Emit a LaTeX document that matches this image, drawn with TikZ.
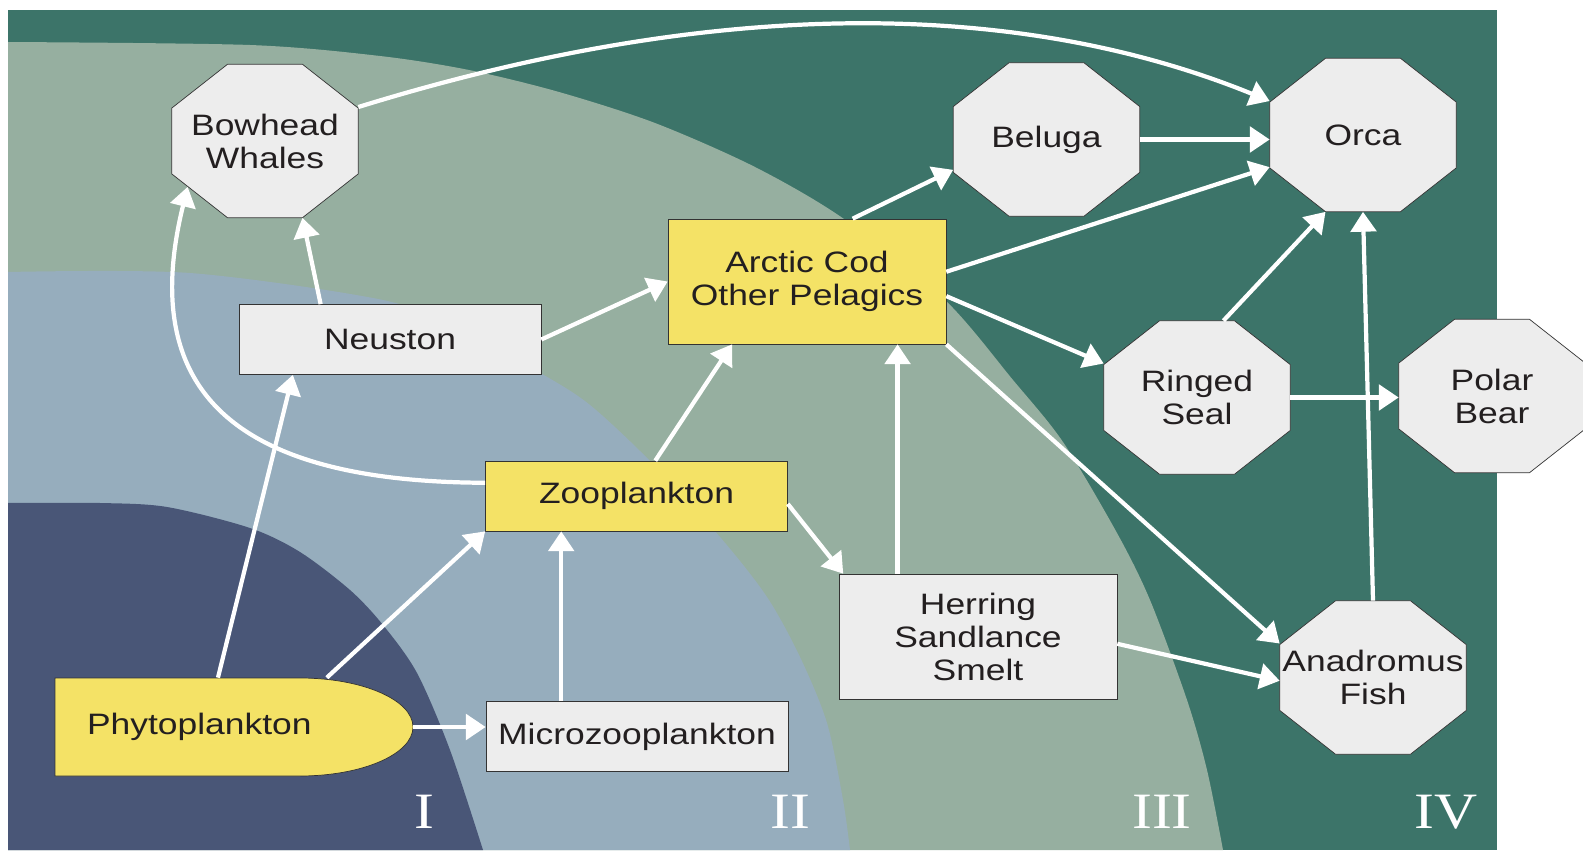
\documentclass[tikz,border=0pt]{standalone}
\usepackage{fontspec}
\setmainfont{Liberation Sans}[FakeStretch=1.2]
\newfontfamily\chiffresfont{Liberation Serif}[FakeStretch=1.17]
\usetikzlibrary{arrows.meta, calc, backgrounds}

\definecolor{merprofonde}{HTML}{3C7469}
\definecolor{merplateau}{HTML}{96AFA0}
\definecolor{mercotiere}{HTML}{96ADBD}
\definecolor{merglace}{HTML}{495677}
\definecolor{jaune}{HTML}{F4E266}
\definecolor{grisclair}{HTML}{EDEDED}
\definecolor{bord}{HTML}{333333}
\definecolor{encre}{HTML}{231F20}

\begin{document}
\begin{tikzpicture}[
    x=0.02cm, y=0.02cm,
    % Texte des noeuds
    texte/.style={font=\fontsize{16.8}{18.8}\selectfont, text=encre, align=center},
    % Styles des noeuds (les octogones sont traces plus bas, sous le texte)
    predateur/.style={rectangle, inner sep=0pt, minimum width=3.72cm,
                      minimum height=3.06cm, texte},
    octogone/.style={fill=grisclair, draw=bord},
    boite/.style={rectangle, draw=bord, fill=grisclair, inner sep=0pt,
                  minimum width=6.04cm, minimum height=1.4cm, texte},
    grandeboite/.style={boite, minimum width=5.56cm, minimum height=2.5cm},
    % Style des fleches
    fleche/.style={-{Triangle[length=11.3pt, width=14.5pt]}, line width=2.4pt, white},
    % Style des numeros de zone
    zone/.style={font=\chiffresfont\fontsize{29}{29}\selectfont, text=white}
]
\useasboundingbox (0,0) rectangle (1583,850);

% ==========================================
% ZONES MARINES (fond)
% ==========================================
\begin{scope}[on background layer]
\fill[merprofonde] (8,0) rectangle (1497,840);
\fill[merplateau] (8,0) -- plot[smooth] coordinates {(8,808) (250,805) (380,794)
    (469,780) (559,758) (655,727) (755,683) (844,631) (945,550) (1013,470)
    (1063,408) (1117,317) (1150,250) (1187,150) (1207,80) (1223,0)} -- cycle;
\fill[mercotiere] (8,0) -- plot[smooth] coordinates {(8,578) (190,577) (383,550)
    (460,520) (542,476) (590,445) (650,389) (720,313) (767,253) (800,193)
    (827,127) (843,50) (850,0)} -- cycle;
\fill[merglace] (8,0) -- plot[smooth] coordinates {(8,347) (100,347) (167,343)
    (250,322) (300,298) (350,260) (383,225) (417,177) (450,100) (483,0)} -- cycle;

% Phytoplancton (bout arrondi)
\filldraw[fill=jaune, draw=bord] (55,172) -- (300,172)
    arc[start angle=90, end angle=-90, x radius=113, y radius=49] -- (55,74) -- cycle;
\end{scope}

\node[zone] (zoneI) at (424,38) {I};
\node[zone] (zoneII) at (790,38) {II};
\node[zone] (zoneIII) at (1162,38) {III};
\node[zone] (zoneIV) at (1446,38) {IV};

% ==========================================
% PRODUCTEURS ET PLANCTON
% ==========================================
\node[texte, align=left, inner ysep=0pt, inner xsep=0.64cm, text width=5.88cm,
      minimum height=1.96cm] (phyto) at (234,123) {Phytoplankton};

\node[boite] (micro) at (637,113.5) {Microzooplankton};
\node[boite, fill=jaune] (zoo) at (636.5,354) {Zooplankton};
\node[boite] (neuston) at (390,510.5) {Neuston};

% ==========================================
% POISSONS
% ==========================================
\node[grandeboite, fill=jaune] (arctic) at (807,568.5) {Arctic Cod\\Other Pelagics};
\node[grandeboite] (herring) at (978,213.5) {Herring\\Sandlance\\Smelt};

% ==========================================
% PREDATEURS
% ==========================================
\node[predateur] (bowhead) at (265,709) {Bowhead\\Whales};
\node[predateur] (beluga) at (1046.5,710.5) {Beluga};
\node[predateur] (orca) at (1363,715) {Orca};
\node[predateur] (seal) at (1197,452.5) {Ringed\\Seal};
\node[predateur] (polar) at (1492,454) {Polar\\Bear};
\node[predateur] (fish) at (1373,172.5) {Anadromus\\Fish};

\begin{scope}[on background layer]
\foreach \n in {bowhead, beluga, orca, seal, polar, fish}
    \filldraw[octogone] ($(\n.north west)+(56,0)$) -- ($(\n.north east)+(-56,0)$)
        -- ($(\n.north east)+(0,-44)$) -- ($(\n.south east)+(0,44)$)
        -- ($(\n.south east)+(-56,0)$) -- ($(\n.south west)+(56,0)$)
        -- ($(\n.south west)+(0,44)$) -- ($(\n.north west)+(0,-44)$) -- cycle;
\end{scope}

% ==========================================
% FLECHES
% ==========================================
\draw[fleche] (phyto.108) -- (neuston.200);
\draw[fleche] (phyto.28) -- (zoo.south west);
\draw[fleche] (phyto.east) -- (phyto.east -| micro.west);
\draw[fleche] (micro.155) -- (micro.155 |- zoo.south);
\draw[fleche] (neuston.153) -- (bowhead.296);
\draw[fleche] (neuston.east) -- (arctic.west);
\draw[fleche] (zoo.62) -- (arctic.220);
\draw[fleche] (zoo.-3) -- (herring.155);
\draw[fleche] (zoo.175) .. controls (220,368) and (140,470) .. ($(bowhead.south west)+(16,31)$);
\draw[fleche] (herring.142) -- (herring.142 |- arctic.south);
\draw[fleche] (herring.-3) -- (fish.182);
\draw[fleche] (arctic.54) -- (beluga.198);
\draw[fleche] (arctic.4) -- (orca.199);
\draw[fleche] (arctic.-6) -- (seal.160);
\draw[fleche] (arctic.south east) -- (fish.160);
\draw[fleche] (beluga.east) -- (beluga.east -| orca.west);
\draw[fleche] (seal.71) -- (orca.244);
\draw[fleche] (seal.east) -- (seal.east -| polar.west);
\draw[fleche] (fish.north) -- (orca.south);
\draw[fleche] (bowhead.20) .. controls (740,861) and (1036,844) .. (orca.160);

\end{tikzpicture}
\end{document}
